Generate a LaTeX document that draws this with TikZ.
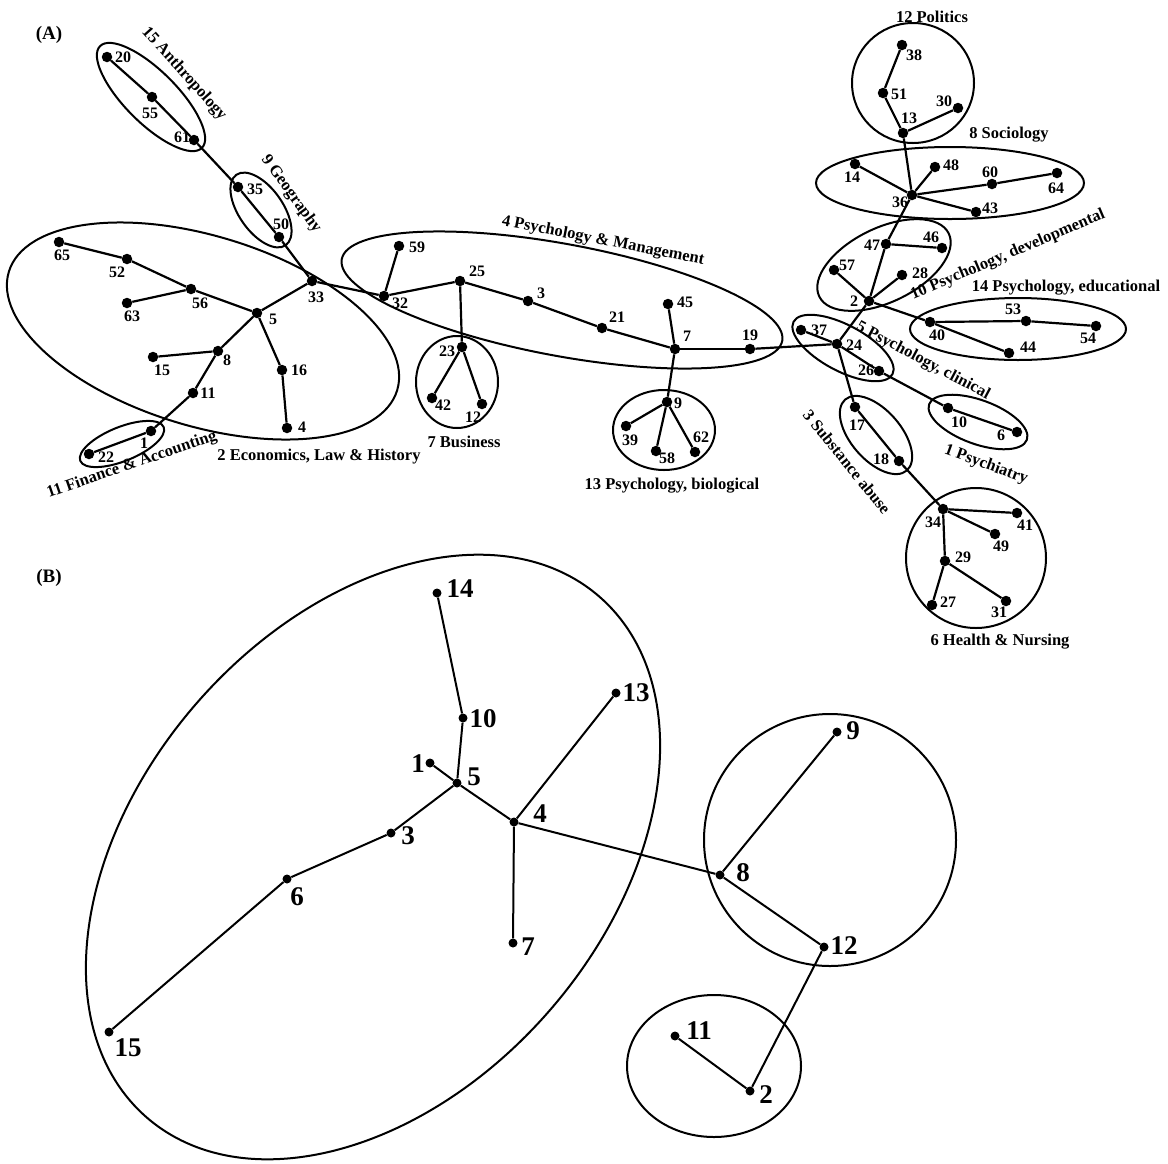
\documentclass[tikz,border=0pt]{standalone}
\usepackage{fontspec}
\setmainfont{Liberation Serif}
\begin{document}
\begin{tikzpicture}[x=1pt,y=-1pt,
  adot/.style={circle,fill,inner sep=0pt,minimum size=10.5pt},
  bdot/.style={circle,fill,inner sep=0pt,minimum size=9pt},
  alab/.style={inner sep=0pt,font=\fontsize{16}{16}\selectfont\bfseries},
  blab/.style={inner sep=0pt,font=\fontsize{27}{27}\selectfont\bfseries},
  glab/.style={inner sep=0pt,font=\fontsize{16.5}{16.5}\selectfont\bfseries},
  plab/.style={inner sep=0pt,font=\fontsize{19}{19}\selectfont\bfseries},
  edge/.style={line width=2.2pt},
  bedge/.style={line width=2pt},
  ring/.style={line width=2pt}]
\useasboundingbox (0,0) rectangle (1168,1163);
\newcommand{\pA}[5]{\node[adot] (a#1) at (#2,#3) {}; \node[alab] (la#1) at (#4,#5) {#1};}
\newcommand{\pB}[5]{\node[bdot] (b#1) at (#2,#3) {}; \node[blab] (lb#1) at (#4,#5) {#1};}
\newcommand{\ring}[6]{\draw[ring,rotate around={#6:(#1,#2)}] (#1,#2) ellipse [x radius=#3, y radius=#4];}

\node[plab] (pa) at (49,35) {(A)};
\node[plab] (pb) at (49,578) {(B)};

% ---- part A nodes
\pA{20}{107}{57}{123}{57}
\pA{55}{152}{97}{150}{113}
\pA{61}{194}{140}{182}{137}
\pA{35}{238}{187}{255}{189}
\pA{50}{279}{237}{281}{224}
\pA{33}{312}{281}{316}{297}
\pA{65}{59}{242}{62}{255}
\pA{52}{127}{259}{117}{272}
\pA{56}{191}{289}{200}{303}
\pA{63}{127}{303}{132}{316}
\pA{5}{257}{313}{273}{319}
\pA{8}{218}{351}{227}{360}
\pA{15}{153}{357}{162}{370}
\pA{11}{193}{393}{208}{393}
\pA{16}{282}{370}{299}{370}
\pA{4}{287}{428}{302}{427}
\pA{1}{151}{431}{144}{443}
\pA{22}{89}{454}{106}{457}
\pA{32}{384}{296}{400}{303}
\pA{59}{399}{246}{417}{247}
\pA{25}{460}{281}{477}{271}
\pA{3}{528}{301}{541}{293}
\pA{21}{602}{328}{617}{317}
\pA{7}{675}{349}{687}{336}
\pA{45}{668}{304}{685}{302}
\pA{19}{750}{349}{750}{335}
\pA{23}{462}{347}{447}{351}
\pA{42}{432}{398}{443}{405}
\pA{12}{482}{404}{473}{417}
\pA{9}{667}{402}{678}{403}
\pA{39}{626}{426}{630}{440}
\pA{58}{656}{451}{667}{458}
\pA{62}{695}{452}{701}{437}
\pA{38}{902}{45}{914}{55}
\pA{51}{883}{93}{899}{94}
\pA{13}{903}{133}{909}{118}
\pA{30}{958}{108}{944}{101}
\pA{14}{855}{164}{852}{177}
\pA{36}{912}{195}{900}{202}
\pA{48}{935}{167}{951}{165}
\pA{60}{992}{184}{990}{172}
\pA{64}{1057}{173}{1056}{188}
\pA{43}{976}{212}{990}{208}
\pA{47}{886}{244}{872}{245}
\pA{46}{942}{248}{931}{237}
\pA{57}{834}{270}{847}{265}
\pA{28}{902}{275}{920}{273}
\pA{2}{869}{301}{854}{301}
\pA{40}{930}{322}{937}{335}
\pA{53}{1026}{321}{1013}{309}
\pA{54}{1096}{326}{1088}{338}
\pA{44}{1009}{353}{1028}{347}
\pA{37}{801}{330}{819}{330}
\pA{24}{837}{344}{854}{345}
\pA{26}{879}{371}{866}{370}
\pA{10}{948}{408}{959}{422}
\pA{6}{1017}{432}{1001}{435}
\pA{17}{855}{407}{857}{425}
\pA{18}{899}{461}{881}{459}
\pA{34}{943}{509}{933}{522}
\pA{41}{1017}{513}{1025}{525}
\pA{49}{995}{534}{1001}{546}
\pA{29}{945}{561}{963}{557}
\pA{27}{932}{605}{948}{602}
\pA{31}{1006}{601}{999}{612}

% ---- part A edges
\foreach \u/\v in {20/55,55/61,61/35,35/50,50/33,33/5,33/32,5/56,56/52,52/65,56/63,
  5/8,8/15,8/11,11/1,1/22,5/16,16/4,32/59,32/25,25/23,23/42,23/12,25/3,3/21,21/7,
  7/45,7/19,7/9,9/39,9/58,9/62,19/24,24/37,24/26,26/10,10/6,24/17,17/18,18/34,
  34/41,34/49,34/29,29/27,29/31,24/2,2/57,2/28,2/47,47/46,47/36,2/40,40/53,53/54,
  40/44,36/14,36/48,36/60,60/64,36/43,36/13,13/51,51/38,13/30}
  \draw[edge] (a\u) -- (a\v);

% ---- part A rings
\ring{151}{97}{72}{26}{0}{-45}
\ring{261}{210}{43}{22}{0}{-55}
\ring{203}{331}{203}{95}{0}{-17}
\ring{122}{444}{45}{17}{0}{22}
\ring{562}{300}{224}{56}{0}{-10.5}
\ring{457}{382}{41}{46}{0}{0}
\ring{664}{430}{51}{40}{0}{0}
\ring{913}{83}{61}{60}{0}{0}
\ring{950}{183}{134}{36}{0}{0}
\ring{884}{265}{72}{37}{0}{26}
\ring{1018}{329}{108}{31}{0}{0}
\ring{843}{348}{56}{23}{0}{-28}
\ring{978}{422}{52}{22}{0}{-20}
\ring{876}{435}{47}{25}{0}{-49}
\ring{976}{558}{70}{70}{0}{0}

% ---- part A group labels
\node[glab,rotate=-48] (g15) at (184,74) {15 Anthropology};
\node[glab,rotate=-54] (g9) at (291,194) {9 Geography};
\node[glab,rotate=19] (g11) at (132,465) {11 Finance \& Accounting};
\node[glab] (g2) at (319,457) {2 Economics, Law \& History};
\node[glab,rotate=-11] (g4) at (603,241) {4 Psychology \& Management};
\node[glab] (g7) at (464,442) {7 Business};
\node[glab] (g13) at (672,486) {13 Psychology, biological};
\node[glab] (g12) at (932,17) {12 Politics};
\node[glab] (g8) at (1009,135) {8 Sociology};
\node[glab,rotate=23] (g10) at (1008,255) {10 Psychology, developmental};
\node[glab] (g14) at (1066,288) {14 Psychology, educational};
\node[glab,rotate=-28] (g5) at (923,361) {5 Psychology, clinical};
\node[glab,rotate=-20] (g1) at (986,465) {1 Psychiatry};
\node[glab,rotate=-51] (g3) at (847,462) {3 Substance abuse};
\node[glab] (g6) at (1000,642) {6 Health \& Nursing};

% ---- part B
\pB{14}{437}{593}{460}{589}
\pB{10}{463}{718}{483}{719}
\pB{1}{430}{763}{418}{764}
\pB{5}{457}{783}{474}{777}
\pB{13}{616}{693}{636}{693}
\pB{4}{514}{822}{540}{814}
\pB{3}{391}{833}{408}{836}
\pB{6}{287}{879}{297}{897}
\pB{7}{513}{943}{528}{947}
\pB{15}{109}{1032}{128}{1048}
\pB{9}{837}{732}{853}{731}
\pB{8}{720}{875}{743}{873}
\pB{12}{824}{947}{844}{946}
\pB{11}{675}{1036}{699}{1031}
\pB{2}{750}{1091}{766}{1095}

\foreach \u/\v in {14/10,10/5,1/5,5/3,3/6,6/15,5/4,4/13,4/7,4/8,8/9,8/12,12/2,2/11}
  \draw[bedge] (b\u) -- (b\v);

\ring{373}{857}{345}{234}{0}{49}
\ring{830}{840}{126}{126}{0}{0}
\ring{714}{1066}{87}{71}{0}{0}
\end{tikzpicture}
\end{document}
